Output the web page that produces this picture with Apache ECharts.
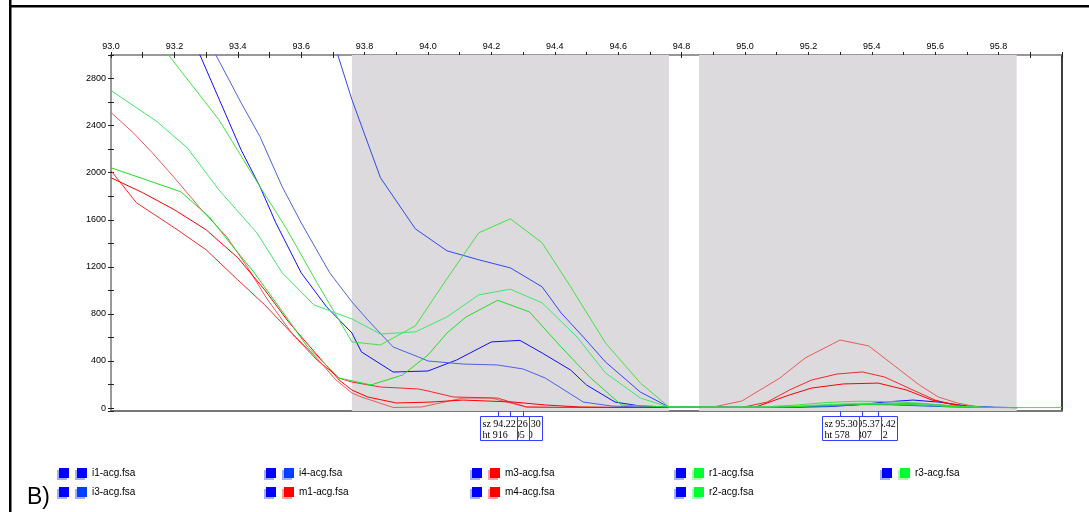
<!DOCTYPE html>
<html><head><meta charset="utf-8">
<script src="https://cdn.jsdelivr.net/npm/echarts@6/dist/echarts.min.js"></script>
<style>html,body{margin:0;padding:0;background:#fff}#c{width:1089px;height:512px}</style>
</head><body><div id="c"></div>
<script>
// ---- data (size in bp on x, height in RFU on y) ----
const i1 = [[93.20,3450],[93.28,3004],[93.41,2196],[93.47,1881],[93.52,1574],[93.60,1149],[93.68,860],[93.76,638],[93.79,477],[93.89,306],[94.00,315],[94.09,408],[94.20,562],[94.29,575],[94.36,468],[94.45,323],[94.50,196],[94.59,51],[94.67,17],[94.76,9],[94.86,9],[94.96,7],[95.06,6],[95.16,8],[95.26,12],[95.36,28],[95.44,51],[95.53,68],[95.61,51],[95.70,18],[95.79,6],[95.86,4]];
const i3 = [[93.25,3400],[93.33,3004],[93.41,2596],[93.47,2306],[93.54,1881],[93.60,1574],[93.69,1149],[93.76,902],[93.81,749],[93.89,519],[93.97,434],[94.00,400],[94.11,374],[94.22,366],[94.30,332],[94.37,255],[94.49,51],[94.58,17],[94.67,9],[94.76,9],[94.86,8],[94.96,7],[95.06,6],[95.16,7],[95.26,15],[95.36,32],[95.46,42],[95.56,35],[95.66,18],[95.76,7],[95.86,4]];
const i4 = [[93.66,3430],[93.715,3004],[93.76,2621],[93.85,1957],[93.96,1523],[94.06,1336],[94.16,1260],[94.26,1191],[94.36,1030],[94.42,808],[94.49,604],[94.56,391],[94.67,136],[94.76,9],[94.86,8],[94.96,7],[95.06,6],[95.16,8],[95.26,22],[95.36,30],[95.46,28],[95.56,18],[95.66,9],[95.76,5],[95.86,4]];
const m1 = [[93.00,2511],[93.07,2340],[93.13,2170],[93.20,1957],[93.28,1702],[93.365,1455],[93.43,1200],[93.49,936],[93.57,638],[93.64,451],[93.71,238],[93.76,128],[93.79,94],[93.89,5],[93.98,9],[94.11,85],[94.20,85],[94.31,9],[94.41,5],[94.76,5],[94.90,9],[94.99,60],[95.11,255],[95.19,426],[95.30,578],[95.39,528],[95.46,383],[95.55,196],[95.61,94],[95.67,43],[95.74,5]];
const m3 = [[93.00,2017],[93.08,1745],[93.20,1532],[93.30,1345],[93.40,1089],[93.485,877],[93.56,664],[93.65,408],[93.72,255],[93.76,221],[93.85,179],[93.97,162],[94.00,145],[94.08,94],[94.22,85],[94.31,9],[94.41,6],[94.76,5],[94.99,5],[95.07,51],[95.14,153],[95.21,238],[95.29,289],[95.37,307],[95.44,264],[95.53,153],[95.60,68],[95.67,17],[95.72,5]];
const m4 = [[93.00,1957],[93.10,1830],[93.20,1685],[93.30,1515],[93.40,1277],[93.485,1004],[93.56,732],[93.65,451],[93.72,238],[93.76,153],[93.81,94],[93.90,43],[94.01,51],[94.11,68],[94.27,51],[94.37,26],[94.48,9],[94.60,5],[94.76,5],[95.03,5],[95.14,111],[95.21,170],[95.31,205],[95.42,212],[95.51,153],[95.59,68],[95.67,26],[95.72,5]];
const r1 = [[93.00,3640],[93.18,3004],[93.34,2451],[93.47,1881],[93.55,1540],[93.65,1064],[93.76,562],[93.85,536],[93.96,698],[94.06,1100],[94.16,1489],[94.26,1608],[94.36,1404],[94.45,1030],[94.56,553],[94.67,213],[94.76,9],[94.86,9],[94.96,8],[95.06,10],[95.16,25],[95.26,48],[95.36,58],[95.46,55],[95.56,40],[95.66,18],[95.76,6],[95.86,4],[96.00,4]];
const r2 = [[93.00,2698],[93.145,2434],[93.24,2213],[93.34,1855],[93.46,1489],[93.54,1149],[93.64,877],[93.76,757],[93.85,630],[93.96,647],[94.06,774],[94.16,962],[94.26,1010],[94.36,894],[94.47,604],[94.56,298],[94.67,85],[94.76,9],[94.86,8],[94.96,7],[95.06,8],[95.16,15],[95.26,30],[95.36,40],[95.46,40],[95.56,30],[95.66,14],[95.76,5],[95.86,4]];
const r3 = [[93.00,2042],[93.22,1838],[93.31,1625],[93.38,1387],[93.45,1157],[93.53,860],[93.62,519],[93.72,255],[93.82,196],[93.92,281],[94.00,451],[94.06,638],[94.12,774],[94.22,916],[94.32,817],[94.42,519],[94.51,264],[94.61,26],[94.76,9],[94.86,8],[94.96,6],[95.06,7],[95.16,12],[95.26,22],[95.36,30],[95.46,32],[95.56,25],[95.66,12],[95.76,5],[95.86,4]];

const seriesNames = ['i1-acg.fsa','i3-acg.fsa','i4-acg.fsa','m1-acg.fsa','m3-acg.fsa','m4-acg.fsa','r1-acg.fsa','r2-acg.fsa','r3-acg.fsa'];
const binStarts = [93.76, 94.855];
const binEnds = [94.76, 95.857];
const peakSizes = [94.22, 94.26, 94.30, 95.30, 95.37, 95.42];
const peakHeights = [916, 1005, 570, 578, 307, 212];
const legendColumns = [['i1-acg.fsa','i3-acg.fsa'],['i4-acg.fsa','m1-acg.fsa'],['m3-acg.fsa','m4-acg.fsa'],['r1-acg.fsa','r2-acg.fsa'],['r3-acg.fsa']];

// ---- styles ----
const seriesData = [i1,i3,i4,m1,m3,m4,r1,r2,r3];
const lineColors = ['#1010ff','#4a62e6','#3048f0','#e85a5a','#f02a2a','#ff0000','#44e044','#3ee86a','#22dd22'];
const legendColors = ['#0000ff','#0040ff','#0040ff','#ff0000','#ff0000','#ff0000','#00ff30','#00ff30','#00ff30'];
const legendShadow = ['#a0b0ff','#a0b0ff','#a0b0ff','#ffa0a0','#ffa0a0','#ffa0a0','#a0ffb0','#a0ffb0','#a0ffb0'];
const legendLeft = [59, 266, 472, 676, 882];
const FONT = 'Liberation Sans';

const chart = echarts.init(document.getElementById('c'), null, {renderer: 'canvas'});

const rich = {
  sp: {width: 3, height: 10},
  t: {fontFamily: FONT, fontSize: 10, color: '#000', padding: [0, 0, 0, 5], lineHeight: 12}
};
seriesNames.forEach((n, i) => {
  rich['c' + i] = {width: 10, height: 10, backgroundColor: legendColors[i],
    shadowColor: legendShadow[i], shadowOffsetX: -2, shadowOffsetY: 2, shadowBlur: 0};
});

const legends = legendColumns.map((col, ci) => ({
  orient: 'vertical', left: legendLeft[ci], top: 467, itemGap: 7, padding: 0,
  itemWidth: 10, itemHeight: 10, icon: 'rect', selectedMode: false,
  itemStyle: {color: '#0000ff', shadowColor: '#a0b0ff', shadowOffsetX: -2, shadowOffsetY: 2, shadowBlur: 0},
  data: col,
  formatter: name => '{sp|}{c' + seriesNames.indexOf(name) + '|}{t|' + name + '}',
  textStyle: {rich: rich, fontSize: 10, lineHeight: 12}
}));

const xBase = {type: 'value', min: 93, max: 96, interval: 0.1, splitLine: {show: false}};
const yBase = {type: 'value', min: -25, max: 3000, splitNumber: 15, splitLine: {show: false}};

const series = [{
  name: '_bins', type: 'line', data: [], silent: true, z: 1,
  markArea: {silent: true, itemStyle: {color: '#dcdadd'},
    data: binStarts.map((s, i) => [{xAxis: s}, {xAxis: binEnds[i]}])}
}].concat(seriesNames.map((n, i) => ({
  name: n, type: 'line', data: seriesData[i], showSymbol: false, symbol: 'none',
  lineStyle: {width: 1, color: lineColors[i]}, itemStyle: {color: lineColors[i]},
  z: 3, clip: true, animation: false
})));

chart.setOption({
  animation: false,
  grid: {left: 111, right: 27, top: 55, bottom: 101, containLabel: false},
  legend: legends,
  xAxis: [
    Object.assign({}, xBase, {position: 'top',
      axisLine: {onZero: false, lineStyle: {color: '#777', width: 1.5}},
      axisTick: {length: 3, lineStyle: {color: '#222'}},
      axisLabel: {margin: 4, fontFamily: FONT, fontSize: 9, color: '#000',
        formatter: v => { const t = Math.round(v * 10); return (t % 2 === 0 && t < 960) ? (t / 10).toFixed(1) : ''; }}}),
    Object.assign({}, xBase, {position: 'top', axisLine: {show: false, onZero: false},
      axisTick: {inside: true, length: 3, lineStyle: {color: '#222'}}, axisLabel: {show: false}}),
    Object.assign({}, xBase, {position: 'bottom', axisLine: {onZero: false, lineStyle: {color: '#777', width: 2}},
      axisTick: {show: false}, axisLabel: {show: false}})
  ],
  yAxis: [
    Object.assign({}, yBase, {position: 'left',
      axisLine: {show: true, onZero: false, lineStyle: {color: '#777', width: 1.5}},
      axisTick: {show: true, length: 3, lineStyle: {color: '#222'}},
      axisLabel: {margin: 5, fontFamily: FONT, fontSize: 9, color: '#000',
        formatter: v => { const r = Math.round(v); return (r >= 0 && r % 400 === 0 && r < 3000) ? String(r) : ''; }}}),
    Object.assign({}, yBase, {position: 'left', axisLine: {show: false, onZero: false},
      axisTick: {show: true, inside: true, length: 3, lineStyle: {color: '#222'}}, axisLabel: {show: false}}),
    Object.assign({}, yBase, {position: 'right', axisLine: {show: true, onZero: false, lineStyle: {color: '#000', width: 1.5}},
      axisTick: {show: false}, axisLabel: {show: false}})
  ],
  series: series
});

// ---- frame, panel letter and peak annotation boxes ----
const gfx = [
  {type: 'rect', shape: {x: 9, y: 0, width: 2.5, height: 512}, style: {fill: '#000'}, z: 100},
  {type: 'rect', shape: {x: 9, y: 5, width: 1080, height: 2.5}, style: {fill: '#000'}, z: 100},
  {type: 'text', style: {text: 'B)', x: 27, y: 509, fontFamily: FONT, fontSize: 23, fill: '#000', textVerticalAlign: 'bottom'}, z: 100}
];
const bottomY = 411, boxTop = 416, boxW = 37, boxH = 24;
const groups = [[0, 1, 2], [3, 4, 5]];
let zc = 110;
groups.forEach(g => {
  g.slice().reverse().forEach(idx => {
    const px = Math.round(chart.convertToPixel({xAxisIndex: 0}, peakSizes[idx]));
    const bx = Math.round(px - boxW / 2) + 0.5;
    gfx.push({type: 'line', shape: {x1: px + 0.5, y1: bottomY, x2: px + 0.5, y2: boxTop}, style: {stroke: '#3040ff', lineWidth: 1}, z: zc});
    gfx.push({type: 'rect', shape: {x: bx, y: boxTop + 0.5, width: boxW, height: boxH}, style: {fill: '#fff', stroke: '#3040ff', lineWidth: 1}, z: zc + 1});
    gfx.push({type: 'text', style: {text: 'sz ' + peakSizes[idx].toFixed(2) + '\nht ' + peakHeights[idx], x: bx + 2, y: boxTop + 2.5,
      fontFamily: 'Liberation Serif', fontSize: 10, lineHeight: 11, fill: '#000'}, z: zc + 2});
    zc += 3;
  });
});
chart.setOption({graphic: gfx});
</script>
</body></html>
